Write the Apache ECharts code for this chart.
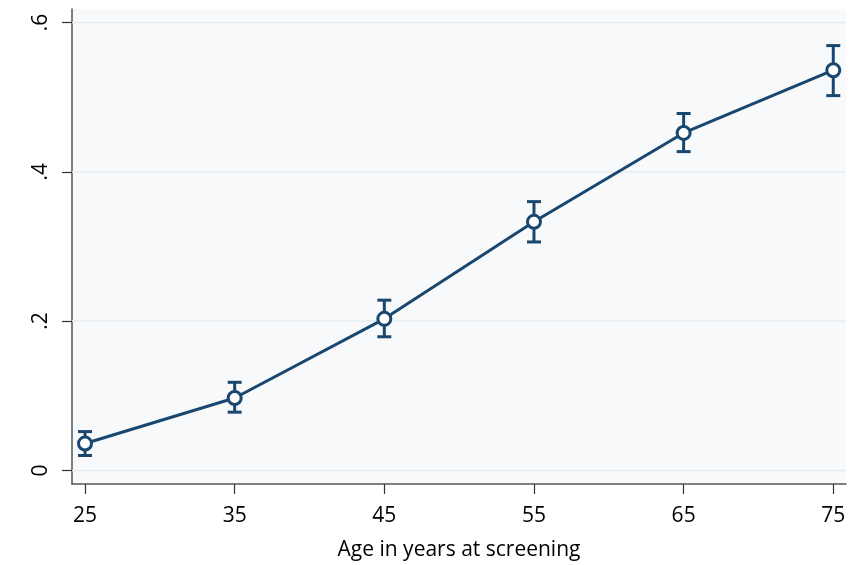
<!DOCTYPE html>
<html>
<head>
<meta charset="utf-8">
<script src="https://cdn.jsdelivr.net/npm/echarts@6/dist/echarts.min.js"></script>
<style>
  html, body { margin: 0; padding: 0; background: #ffffff; }
  #chart { width: 850px; height: 565px; }
</style>
</head>
<body>
<div id="chart"></div>
<script>
// Age groups at screening and the estimated proportion with 95% CI
const ages = [25, 35, 45, 55, 65, 75];
const estimate = [0.036, 0.097, 0.203, 0.333, 0.452, 0.536];
const lowerCI = [0.020, 0.078, 0.179, 0.306, 0.427, 0.502];
const upperCI = [0.052, 0.118, 0.228, 0.360, 0.478, 0.569];
const xTicks = [25, 35, 45, 55, 65, 75];
const yTicks = [0, 0.2, 0.4, 0.6];

const navy = '#1a476f';
const font = '"Open Sans", "Liberation Sans", sans-serif';

const chart = echarts.init(document.getElementById('chart'), null, { renderer: 'canvas' });

const pointData = ages.map((a, i) => [a, estimate[i]]);
const barData = ages.map((a, i) => [a, lowerCI[i], upperCI[i]]);

const option = {
  backgroundColor: '#ffffff',
  animation: false,
  grid: {
    left: 72, top: 9, width: 774, height: 475,
    containLabel: false,
    outerBoundsMode: 'none',
    show: true, backgroundColor: '#f7f9fa', borderWidth: 0
  },
  xAxis: {
    type: 'value',
    min: 24.13, max: 75.85,
    name: 'Age in years at screening',
    nameLocation: 'middle',
    nameGap: 56,
    nameTextStyle: { fontFamily: font, fontSize: 21, color: '#000' },
    axisLine: { show: true, onZero: false, lineStyle: { color: '#555', width: 1.5 } },
    axisTick: { show: true, length: 10, customValues: xTicks, lineStyle: { color: '#333', width: 1.2 } },
    axisLabel: { customValues: xTicks, margin: 22, fontFamily: font, fontSize: 21, color: '#000' },
    splitLine: { show: false }
  },
  yAxis: {
    type: 'value',
    min: -0.0182, max: 0.618,
    axisLine: { show: true, onZero: false, lineStyle: { color: '#555', width: 1.5 } },
    axisTick: { show: true, length: 10, customValues: yTicks, lineStyle: { color: '#333', width: 1.2 } },
    axisLabel: {
      customValues: yTicks, rotate: 90, margin: 20,
      fontFamily: font, fontSize: 21, color: '#000',
      formatter: v => v === 0 ? '0' : String(+v.toFixed(1)).replace(/^0\./, '.')
    },
    splitLine: { show: false }
  },
  series: [
    {
      // horizontal reference lines at the labelled y values
      type: 'custom',
      data: yTicks.map(v => [v]),
      silent: true,
      z: 1,
      renderItem: function (params, api) {
        const y = api.coord([24.13, api.value(0)])[1];
        const cs = params.coordSys;
        return {
          type: 'line',
          shape: { x1: cs.x, y1: y, x2: cs.x + cs.width, y2: y },
          style: { stroke: '#e5edf1', lineWidth: 1.5 }
        };
      }
    },
    {
      // confidence interval bars with caps
      type: 'custom',
      data: barData,
      z: 2,
      renderItem: function (params, api) {
        const x = api.value(0);
        const lo = api.coord([x, api.value(1)]);
        const hi = api.coord([x, api.value(2)]);
        const half = 7;
        const style = { stroke: navy, lineWidth: 3, fill: 'none' };
        return {
          type: 'group',
          children: [
            { type: 'line', shape: { x1: lo[0], y1: lo[1], x2: hi[0], y2: hi[1] }, style },
            { type: 'line', shape: { x1: lo[0] - half, y1: lo[1], x2: lo[0] + half, y2: lo[1] }, style },
            { type: 'line', shape: { x1: hi[0] - half, y1: hi[1], x2: hi[0] + half, y2: hi[1] }, style }
          ]
        };
      }
    },
    {
      type: 'line',
      data: pointData,
      z: 3,
      symbol: 'circle',
      symbolSize: 13,
      showSymbol: true,
      lineStyle: { color: navy, width: 3 },
      itemStyle: { color: '#ffffff', borderColor: navy, borderWidth: 3 }
    }
  ]
};

chart.setOption(option);
</script>
</body>
</html>
